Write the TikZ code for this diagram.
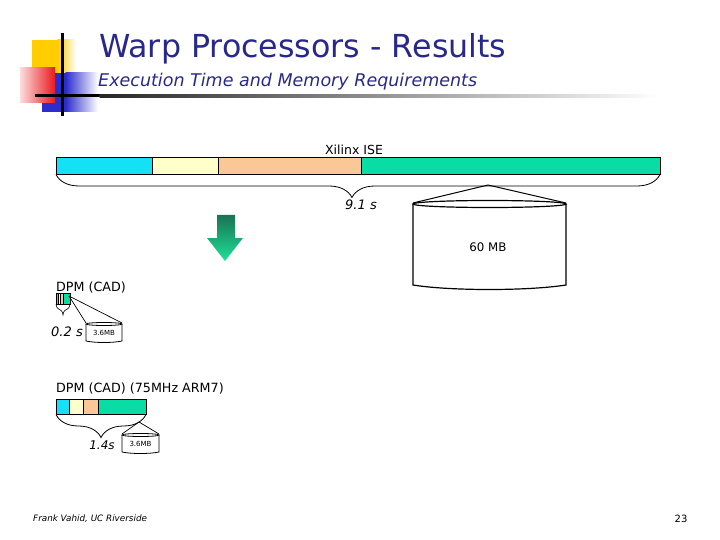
\documentclass[tikz,border=0pt]{standalone}
\usepackage{fontspec}
\setmainfont{DejaVu Sans}
\usetikzlibrary{decorations.pathreplacing}
\definecolor{segcyan}{RGB}{20,225,245}
\definecolor{segyel}{RGB}{255,255,204}
\definecolor{segpeach}{RGB}{250,200,150}
\definecolor{seggreen}{RGB}{10,220,165}
\definecolor{titleblue}{RGB}{40,40,140}
\definecolor{logoyel}{RGB}{255,205,0}
\definecolor{logoblue}{RGB}{45,45,205}
\definecolor{logored}{RGB}{235,25,30}
\definecolor{arrowtop}{RGB}{25,115,85}
\definecolor{arrowbot}{RGB}{30,225,150}
\begin{document}
\begin{tikzpicture}[x=1pt,y=-1pt,
  seg/.style={draw=black,line width=0.6pt,inner sep=0pt,outer sep=0pt,anchor=north west},
  cyl/.style={draw=black,line width=1.2pt},
  scyl/.style={draw=black,line width=0.8pt},
  lbl/.style={inner sep=0pt,font=\fontsize{12.7}{14}\selectfont},
  brc/.style={decorate,decoration={brace,mirror,amplitude=#1},line width=0.8pt},
  tri/.style={line width=1pt}]
\useasboundingbox (0,0) rectangle (720,540);
% logo
\fill[logoyel] (32,40) rectangle (58,73);
\shade[left color=logoyel,right color=white] (57.5,40) rectangle (76,73);
\fill[logoblue] (42,73) rectangle (66,112);
\shade[left color=logoblue,right color=white] (65.5,73) rectangle (98,112);
\shade[left color=logored!15,right color=logored] (20,68) rectangle (55,103);
\fill[black] (35,94.5) rectangle (100,97.5);
\shade[left color=black!85,right color=white] (99.5,94.5) rectangle (660,97.5);
\fill[black] (60.5,33) rectangle (63.5,116);
% titles
\node[anchor=base west,inner sep=0pt,text=titleblue,font=\fontsize{31.7}{36}\selectfont] (title) at (99,58) {Warp Processors - Results};
\node[anchor=base west,inner sep=0pt,text=titleblue,font=\fontsize{17.5}{20}\selectfont\itshape] (subtitle) at (98,87) {Execution Time and Memory Requirements};
% big bar
\node[lbl,font=\fontsize{12.5}{14}\selectfont] (xil) at (354,150) {Xilinx ISE};
\node[seg,fill=segcyan,minimum width=96pt,minimum height=17pt] (a1) at (56,157) {};
\node[seg,fill=segyel,minimum width=66pt,minimum height=17pt] (a2) at (a1.north east) {};
\node[seg,fill=segpeach,minimum width=143pt,minimum height=17pt] (a3) at (a2.north east) {};
\node[seg,fill=seggreen,minimum width=299pt,minimum height=17pt] (a4) at (a3.north east) {};
\draw[brc=23pt,decoration={aspect=0.49}] ([yshift=-0.5pt]a1.south west) -- ([yshift=-0.5pt]a4.south east);
\node[lbl,font=\fontsize{13}{14}\selectfont\itshape] (t1) at (361,205) {9.1 s};
% big cylinder
\coordinate (apA) at (488,185);
\draw[cyl] (413,204) -- (413,285) .. controls (450,291) and (528,291) .. (566,285) -- (566,204);
\draw[cyl] (489.5,204) ellipse (76.5pt and 3.5pt);
\node[lbl,font=\fontsize{11.8}{14}\selectfont] (m1) at (488,247) {60 MB};
\draw[tri] (apA) -- (413,203);
\draw[tri] (apA) -- (566,203);
% green arrow
\shade[top color=arrowtop,bottom color=arrowbot] (217,215) -- (235,215) -- (235,238) -- (243,238) -- (225,261) -- (207,238) -- (217,238) -- cycle;
% DPM (CAD)
\node[lbl,anchor=west] (d1) at (56,288) {DPM (CAD)};
\node[seg,fill=segcyan,minimum width=2.2pt,minimum height=11pt,line width=0.3pt] (b1) at (56,293) {};
\node[seg,fill=segyel,minimum width=1.5pt,minimum height=11pt,line width=0.3pt] (b2) at (b1.north east) {};
\node[seg,fill=segpeach,minimum width=3.3pt,minimum height=11pt,line width=0.3pt] (b3) at (b2.north east) {};
\node[seg,fill=seggreen,minimum width=7pt,minimum height=11pt,line width=0.3pt] (b4) at (b3.north east) {};
\draw[brc=11pt,line width=0.6pt] (b1.south west) -- (b4.south east);
\node[lbl,font=\fontsize{13}{14}\selectfont\itshape] (t2) at (67,332) {0.2 s};
\coordinate (apB) at (69,296);
\draw[scyl] (86,324) -- (86,341) .. controls (95,343) and (113,343) .. (122,341) -- (122,324);
\draw[scyl] (104,324) ellipse (18pt and 1.5pt);
\draw[line width=0.7pt] (apB) -- (86,323);
\draw[line width=0.7pt] (apB) -- (122,323);
\node[lbl,font=\fontsize{7}{8}\selectfont] (m2) at (104,333) {3.6MB};
% DPM (CAD) (75MHz ARM7)
\node[lbl,anchor=west] (d2) at (56,389) {DPM (CAD) (75MHz ARM7)};
\node[seg,fill=segcyan,minimum width=13pt,minimum height=15pt] (c1) at (56,399) {};
\node[seg,fill=segyel,minimum width=14pt,minimum height=15pt] (c2) at (c1.north east) {};
\node[seg,fill=segpeach,minimum width=15pt,minimum height=15pt] (c3) at (c2.north east) {};
\node[seg,fill=seggreen,minimum width=48pt,minimum height=15pt] (c4) at (c3.north east) {};
\draw[brc=23pt] ([yshift=-0.5pt]c1.south west) -- ([yshift=-0.5pt]c4.south east);
\node[lbl,font=\fontsize{12}{14}\selectfont\itshape] (t3) at (102,445) {1.4s};
\coordinate (apC) at (139,422);
\draw[scyl] (122,435) -- (122,452) .. controls (131,454) and (150,454) .. (159,452) -- (159,435);
\draw[scyl] (140.5,435) ellipse (18.5pt and 1.5pt);
\draw[line width=0.7pt] (apC) -- (122,434);
\draw[line width=0.7pt] (apC) -- (159,434);
\node[lbl,font=\fontsize{7}{8}\selectfont] (m3) at (140.5,444) {3.6MB};
% footer
\node[lbl,anchor=west,font=\fontsize{8.8}{10}\selectfont\itshape] (foot) at (33,519) {Frank Vahid, UC Riverside};
\node[lbl,font=\fontsize{10}{12}\selectfont] (pg) at (681,519) {23};
\end{tikzpicture}
\end{document}
